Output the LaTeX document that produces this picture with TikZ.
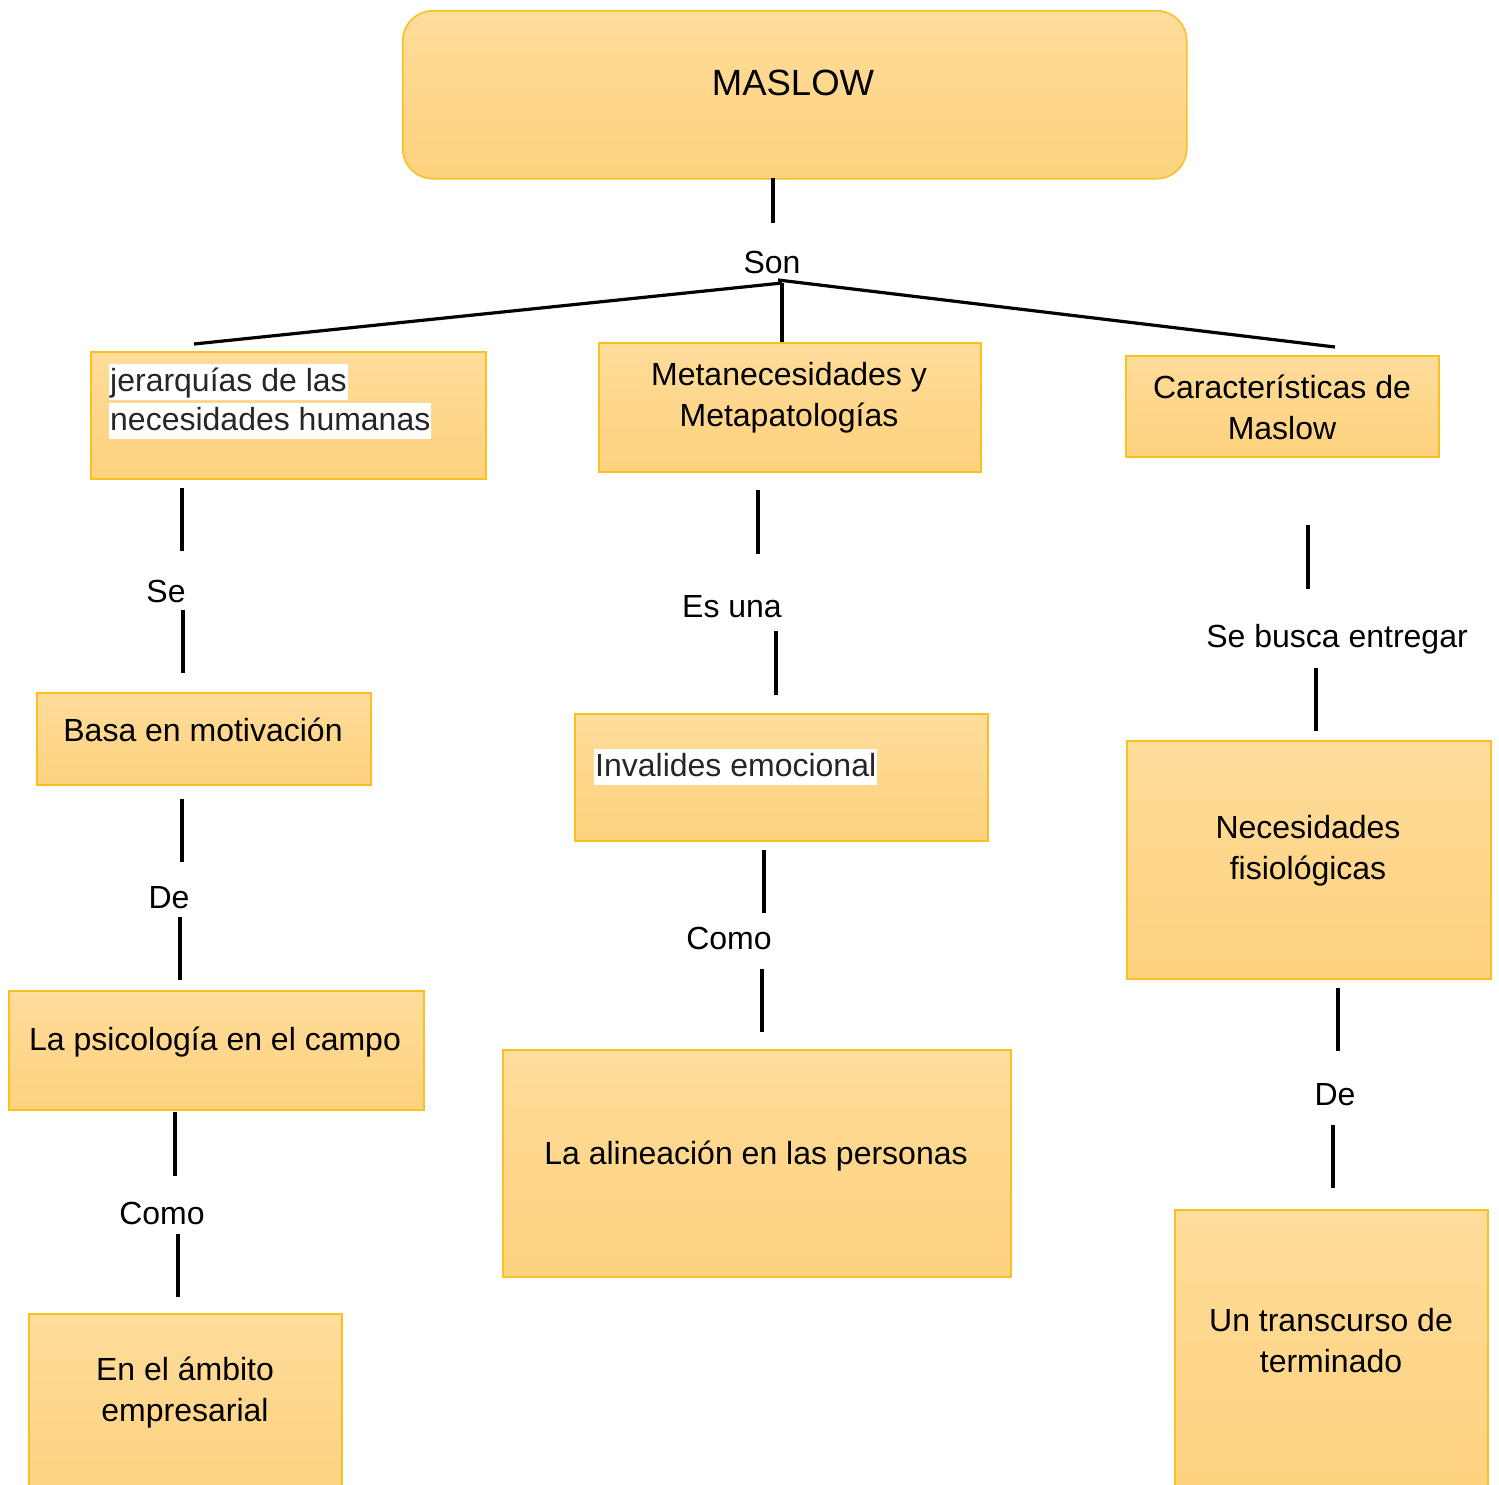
\documentclass[tikz,border=0pt]{standalone}
\usepackage{fontspec}
\setmainfont{Liberation Sans}
\definecolor{boxtop}{HTML}{FEDC9A}
\definecolor{boxbot}{HTML}{FED27E}
\definecolor{boxline}{HTML}{F8C020}
\definecolor{hltext}{HTML}{262626}
\begin{document}
\begin{tikzpicture}[x=1pt,y=-1pt,
  box/.style={draw=boxline, line width=1.5pt, top color=boxtop, bottom color=boxbot, inner sep=0pt, anchor=north west},
  lbl/.style={font=\fontsize{32}{41}\selectfont, align=center, inner sep=0pt, text=black},
  hl/.style={font=\fontsize{32}{41}\selectfont, fill=white, text=hltext, inner xsep=1pt, inner ysep=0pt, text height=27pt, text depth=9pt, anchor=west},
  conn/.style={line width=3.5pt, black},
  slant/.style={line width=3.2pt, black}]
\useasboundingbox (0,0) rectangle (1499,1484);
\clip (0,0) rectangle (1499,1484);

% boxes
\node[box, rounded corners=30pt, minimum width=784pt, minimum height=168pt] (maslow) at (402,10) {};
\node[box, minimum width=395pt, minimum height=127pt] (jer) at (90,351) {};
\node[box, minimum width=382pt, minimum height=129pt] (meta) at (598,342) {};
\node[box, minimum width=313pt, minimum height=101pt] (car) at (1125,355) {};
\node[box, minimum width=334pt, minimum height=92pt] (basa) at (36,692) {};
\node[box, minimum width=413pt, minimum height=127pt] (inv) at (574,713) {};
\node[box, minimum width=364pt, minimum height=238pt] (nec) at (1126,740) {};
\node[box, minimum width=415pt, minimum height=119pt] (psi) at (8,990) {};
\node[box, minimum width=508pt, minimum height=227pt] (ali) at (502,1049) {};
\node[box, minimum width=313pt, minimum height=290pt] (un) at (1174,1209) {};
\node[box, minimum width=313pt, minimum height=190pt] (emp) at (28,1313) {};

% texts
\node[lbl, font=\fontsize{36.5}{44}\selectfont] (tmaslow) at (793,83) {MASLOW};
\node[hl] (tjer1) at (109,382) {jerarquías de las};
\node[hl] (tjer2) at (109,421) {necesidades humanas};
\node[lbl] (tmeta) at (789,398) {Metanecesidades y\\Metapatologías};
\node[lbl] (tcar) at (1282,407) {Características de\\Maslow};
\node[lbl] (tbasa) at (203,730) {Basa en motivación};
\node[hl] (tinv) at (594,767) {Invalides emocional};
\node[lbl] (tnec) at (1308,851) {Necesidades\\fisiológicas};
\node[lbl] (tpsi) at (215,1042) {La psicología en el campo};
\node[lbl] (tali) at (756,1156) {La alineación en las personas};
\node[lbl] (tun) at (1331,1341) {Un transcurso de\\terminado};
\node[lbl] (temp) at (185,1393) {En el ámbito\\empresarial};

% connector labels
\node[lbl] (lson) at (772,262) {Son};
\node[lbl] (lse) at (166,591) {Se};
\node[lbl] (lde1) at (169,898) {De};
\node[lbl] (lcomo1) at (162,1213) {Como};
\node[lbl] (lesuna) at (732,607) {Es una};
\node[lbl] (lcomo2) at (729,938) {Como};
\node[lbl] (lseb) at (1337,639) {Se busca entregar};
\node[lbl] (lde2) at (1335,1095) {De};

% connector end points
\coordinate (s0a) at (773,178); \coordinate (s0b) at (773,223);
\coordinate (sj) at (782,283);
\coordinate (sl) at (194,344);
\coordinate (sr) at (1335,347);
\coordinate (sm) at (782,342);
\coordinate (sjr) at (778,280);

\coordinate (a1) at (182,488); \coordinate (a2) at (182,551);
\coordinate (a3) at (183,610); \coordinate (a4) at (183,673);
\coordinate (a5) at (182,799); \coordinate (a6) at (182,862);
\coordinate (a7) at (180,917); \coordinate (a8) at (180,980);
\coordinate (a9) at (175,1112); \coordinate (a10) at (175,1176);
\coordinate (a11) at (178,1234); \coordinate (a12) at (178,1297);

\coordinate (b1) at (758,490); \coordinate (b2) at (758,554);
\coordinate (b3) at (776,631); \coordinate (b4) at (776,695);
\coordinate (b5) at (764,850); \coordinate (b6) at (764,913);
\coordinate (b7) at (762,969); \coordinate (b8) at (762,1032);

\coordinate (c1) at (1308,525); \coordinate (c2) at (1308,589);
\coordinate (c3) at (1316,668); \coordinate (c4) at (1316,731);
\coordinate (c5) at (1338,988); \coordinate (c6) at (1338,1051);
\coordinate (c7) at (1333,1125); \coordinate (c8) at (1333,1188);

% connectors
\draw[conn] (s0a) -- (s0b);
\draw[slant] (sl) -- (sj);
\draw[slant] (sjr) -- (sr);
\draw[conn] (sj) -- (sm);

\draw[conn] (a1) -- (a2); \draw[conn] (a3) -- (a4);
\draw[conn] (a5) -- (a6); \draw[conn] (a7) -- (a8);
\draw[conn] (a9) -- (a10); \draw[conn] (a11) -- (a12);
\draw[conn] (b1) -- (b2); \draw[conn] (b3) -- (b4);
\draw[conn] (b5) -- (b6); \draw[conn] (b7) -- (b8);
\draw[conn] (c1) -- (c2); \draw[conn] (c3) -- (c4);
\draw[conn] (c5) -- (c6); \draw[conn] (c7) -- (c8);
\end{tikzpicture}
\end{document}
